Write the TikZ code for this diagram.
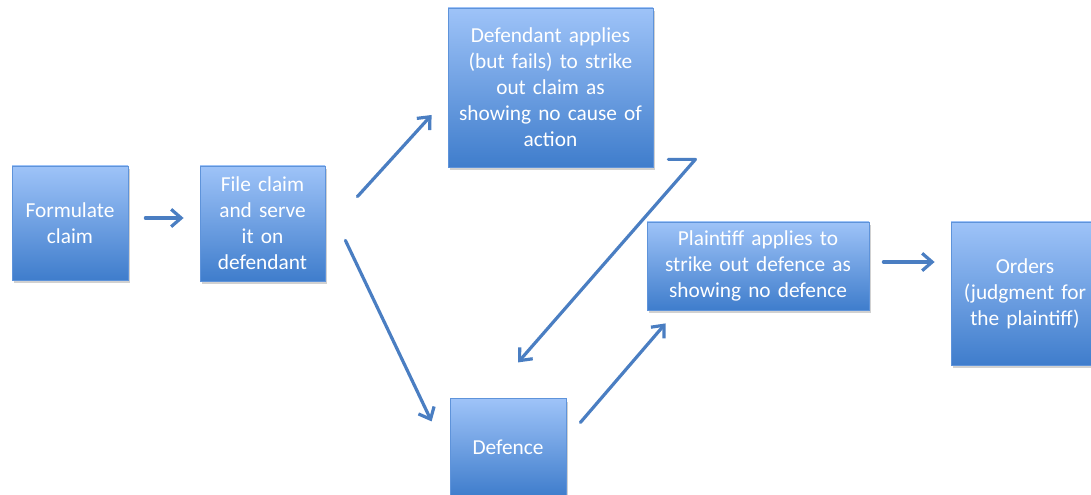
\documentclass[tikz,border=0pt]{standalone}
\usepackage{fontspec}
\setmainfont{Carlito}
\usetikzlibrary{arrows.meta,calc,shadows}
\definecolor{boxtop}{HTML}{9EC3F8}
\definecolor{boxbot}{HTML}{3F7DCC}
\definecolor{boxline}{HTML}{5E93DA}
\definecolor{arrcol}{HTML}{4A7EC2}
\tikzset{
  box/.style={draw=boxline, line width=0.6pt, top color=boxtop, bottom color=boxbot,
    text=white, align=center, inner sep=2pt,
    font=\fontsize{16}{19.5}\selectfont,
    drop shadow={shadow xshift=1.5pt, shadow yshift=-2pt, fill=black, opacity=0.18}},
  arr/.style={draw=arrcol, line width=2.4pt, line cap=round, line join=round,
    -{Straight Barb[length=7.5pt, width=13pt, line width=2.4pt]}},
}
\begin{document}
\begin{tikzpicture}[x=0.75pt, y=-0.75pt]
\useasboundingbox (0,0) rectangle (1091,495);
\clip (0,0) rectangle (1091,495);
% boxes
\node[box, minimum width=87pt, minimum height=85.5pt, text width=80pt] (a) at (70,223) {Formulate\\claim};
\node[box, minimum width=93.75pt, minimum height=86.25pt, text width=88pt] (b) at (262.5,223.5) {File claim\\and serve\\it on\\defendant};
\node[box, minimum width=153.75pt, minimum height=119.25pt, text width=148pt] (c) at (550.5,87.5) {Defendant applies\\(but fails) to strike\\out claim as\\showing no cause of\\action};
\node[box, minimum width=87pt, minimum height=73pt, text width=80pt] (d) at (508,447.5) {Defence};
\node[box, minimum width=166.5pt, minimum height=66pt, text width=160pt] (e) at (758,266) {Plaintiff applies to\\strike out defence as\\showing no defence};
\node[box, minimum width=111pt, minimum height=107.25pt, text width=105pt] (f) at (1025,293.5) {Orders\\(judgment for\\the plaintiff)};
% connector end points (offsets in px, y downwards)
\coordinate (a1) at ($(a.east)+(17,-5)$);
\coordinate (b0) at ($(b.west)+(-16,-5.5)$);
\coordinate (b1) at ($(b.north east)+(32,31)$);
\coordinate (c0) at ($(c.west)+(-16,27.5)$);
\coordinate (b2) at ($(b.south east)+(20,-41)$);
\coordinate (d0) at ($(d.north west)+(-18,23)$);
\coordinate (c1) at ($(c.south east)+(15,-8)$);
\coordinate (c2) at ($(c.south east)+(42,-8)$);
\coordinate (d1) at ($(d.north)+(10,-36)$);
\coordinate (d2) at ($(d.north east)+(14,24)$);
\coordinate (e0) at ($(e.south west)+(19,13)$);
\coordinate (e1) at ($(e.east)+(14,-4)$);
\coordinate (f0) at ($(f.west)+(-16,-31.5)$);
% connectors
\draw[arr] (a1) -- (b0);
\draw[arr] (b1) -- (c0);
\draw[arr] (b2) -- (d0);
\draw[arr] (c1) -- (c2) -- (d1);
\draw[arr] (d2) -- (e0);
\draw[arr] (e1) -- (f0);
\end{tikzpicture}
\end{document}
